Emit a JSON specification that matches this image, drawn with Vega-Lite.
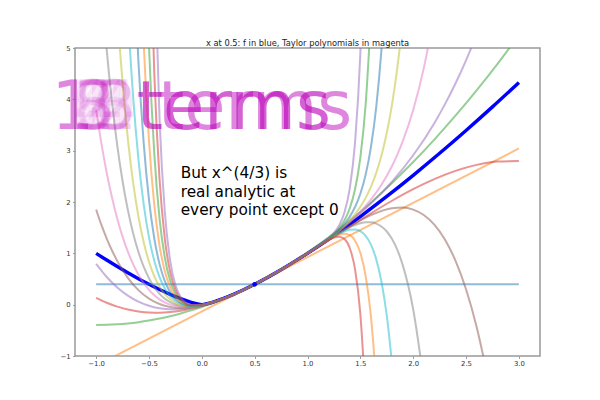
{
  "$schema": "https://vega.github.io/schema/vega-lite/v6.json",
  "autosize": "none",
  "width": 465,
  "height": 308,
  "padding": {"left": 75, "top": 48, "right": 60, "bottom": 44},
  "background": "white",
  "title": {"text": "x at 0.5: f in blue, Taylor polynomials in magenta", "fontSize": 8.3, "font": "DejaVu Sans", "fontWeight": "normal", "color": "#222", "anchor": "middle", "offset": 3.3, "baseline": "alphabetic", "dy": 13.5},
  "config": {
    "view": {"stroke": "#999", "strokeWidth": 1.5},
    "axis": {"grid": false, "domain": false, "title": null, "labelFont": "DejaVu Sans", "labelFontSize": 6.9, "labelColor": "#333", "tickColor": "#999", "tickSize": 2.4, "tickWidth": 1, "labelPadding": 2.4}
  },
  "datasets": {
    "poly": [
      {"d":0,"x":-1,"y":0.39685},{"d":0,"x":3,"y":0.39685},
      {"d":1,"x":-1,"y":-1.19054},{"d":1,"x":3,"y":3.0425},
      {"d":2,"x":-1,"y":-0.3968},{"d":2,"x":-0.9,"y":-0.3933},{"d":2,"x":-0.8,"y":-0.3827},{"d":2,"x":-0.7,"y":-0.3651},{"d":2,"x":-0.6,"y":-0.3404},{"d":2,"x":-0.5,"y":-0.3087},{"d":2,"x":-0.4,"y":-0.2699},{"d":2,"x":-0.3,"y":-0.224},{"d":2,"x":-0.2,"y":-0.1711},{"d":2,"x":-0.1,"y":-0.1111},{"d":2,"x":0,"y":-0.0441},{"d":2,"x":0.1,"y":0.03},{"d":2,"x":0.25,"y":0.1543},{"d":2,"x":0.5,"y":0.3969},{"d":2,"x":0.75,"y":0.6835},{"d":2,"x":1,"y":1.0142},{"d":2,"x":1.2,"y":1.3105},{"d":2,"x":1.4,"y":1.635},{"d":2,"x":1.6,"y":1.9878},{"d":2,"x":1.8,"y":2.3688},{"d":2,"x":2,"y":2.7779},{"d":2,"x":2.2,"y":3.2154},{"d":2,"x":2.4,"y":3.681},{"d":2,"x":2.6,"y":4.1749},{"d":2,"x":2.8,"y":4.6969},{"d":2,"x":3,"y":5.2472},
      {"d":3,"x":-1,"y":0.1323},{"d":3,"x":-0.9,"y":0.0369},{"d":3,"x":-0.8,"y":-0.0383},{"d":3,"x":-0.7,"y":-0.0942},{"d":3,"x":-0.6,"y":-0.1317},{"d":3,"x":-0.5,"y":-0.1519},{"d":3,"x":-0.4,"y":-0.1556},{"d":3,"x":-0.3,"y":-0.1437},{"d":3,"x":-0.2,"y":-0.1173},{"d":3,"x":-0.1,"y":-0.0773},{"d":3,"x":0,"y":-0.0245},{"d":3,"x":0.1,"y":0.04},{"d":3,"x":0.25,"y":0.1568},{"d":3,"x":0.5,"y":0.3969},{"d":3,"x":0.75,"y":0.681},{"d":3,"x":1,"y":0.9946},{"d":3,"x":1.2,"y":1.2567},{"d":3,"x":1.4,"y":1.5207},{"d":3,"x":1.6,"y":1.7791},{"d":3,"x":1.8,"y":2.0243},{"d":3,"x":2,"y":2.2488},{"d":3,"x":2.2,"y":2.4451},{"d":3,"x":2.4,"y":2.6056},{"d":3,"x":2.6,"y":2.7229},{"d":3,"x":2.8,"y":2.7893},{"d":3,"x":3,"y":2.7975},
      {"d":4,"x":-1,"y":0.7937},{"d":4,"x":-0.9,"y":0.5388},{"d":4,"x":-0.8,"y":0.3349},{"d":4,"x":-0.7,"y":0.1767},{"d":4,"x":-0.6,"y":0.0596},{"d":4,"x":-0.5,"y":-0.0212},{"d":4,"x":-0.4,"y":-0.0698},{"d":4,"x":-0.3,"y":-0.0902},{"d":4,"x":-0.2,"y":-0.0859},{"d":4,"x":-0.1,"y":-0.0603},{"d":4,"x":0,"y":-0.0163},{"d":4,"x":0.1,"y":0.0434},{"d":4,"x":0.25,"y":0.1573},{"d":4,"x":0.5,"y":0.3969},{"d":4,"x":0.75,"y":0.6815},{"d":4,"x":1,"y":1.0027},{"d":4,"x":1.2,"y":1.2881},{"d":4,"x":1.4,"y":1.6064},{"d":4,"x":1.6,"y":1.9704},{"d":4,"x":1.8,"y":2.3974},{"d":4,"x":2,"y":2.9102},{"d":4,"x":2.2,"y":3.5363},{"d":4,"x":2.3,"y":3.9018},{"d":4,"x":2.4,"y":4.3082},{"d":4,"x":2.5,"y":4.7605},{"d":4,"x":2.6,"y":5.2637},{"d":4,"x":2.7,"y":5.823},
      {"d":5,"x":-1,"y":1.852},{"d":5,"x":-0.95,"y":1.5528},{"d":5,"x":-0.9,"y":1.2883},{"d":5,"x":-0.85,"y":1.0557},{"d":5,"x":-0.8,"y":0.8523},{"d":5,"x":-0.75,"y":0.6757},{"d":5,"x":-0.7,"y":0.5235},{"d":5,"x":-0.6,"y":0.284},{"d":5,"x":-0.5,"y":0.1181},{"d":5,"x":-0.4,"y":0.0125},{"d":5,"x":-0.3,"y":-0.0446},{"d":5,"x":-0.2,"y":-0.0625},{"d":5,"x":-0.1,"y":-0.0495},{"d":5,"x":0,"y":-0.012},{"d":5,"x":0.1,"y":0.0448},{"d":5,"x":0.25,"y":0.1574},{"d":5,"x":0.5,"y":0.3969},{"d":5,"x":0.75,"y":0.6814},{"d":5,"x":1,"y":0.9984},{"d":5,"x":1.2,"y":1.2647},{"d":5,"x":1.4,"y":1.5241},{"d":5,"x":1.6,"y":1.7459},{"d":5,"x":1.8,"y":1.88},{"d":5,"x":1.9,"y":1.892},{"d":5,"x":2,"y":1.8519},{"d":5,"x":2.1,"y":1.7458},{"d":5,"x":2.2,"y":1.5575},{"d":5,"x":2.3,"y":1.2684},{"d":5,"x":2.4,"y":0.8575},{"d":5,"x":2.5,"y":0.3009},{"d":5,"x":2.6,"y":-0.428},{"d":5,"x":2.7,"y":-1.3588},
      {"d":6,"x":-1,"y":3.7922},{"d":6,"x":-0.95,"y":3.1359},{"d":6,"x":-0.9,"y":2.5708},{"d":6,"x":-0.85,"y":2.0868},{"d":6,"x":-0.8,"y":1.6745},{"d":6,"x":-0.75,"y":1.3254},{"d":6,"x":-0.7,"y":1.0321},{"d":6,"x":-0.65,"y":0.7876},{"d":6,"x":-0.6,"y":0.5858},{"d":6,"x":-0.55,"y":0.421},{"d":6,"x":-0.5,"y":0.2885},{"d":6,"x":-0.45,"y":0.1837},{"d":6,"x":-0.4,"y":0.103},{"d":6,"x":-0.35,"y":0.0428},{"d":6,"x":-0.3,"y":0.0001},{"d":6,"x":-0.25,"y":-0.0276},{"d":6,"x":-0.2,"y":-0.0425},{"d":6,"x":-0.1,"y":-0.0415},{"d":6,"x":0,"y":-0.0093},{"d":6,"x":0.1,"y":0.0455},{"d":6,"x":0.25,"y":0.1575},{"d":6,"x":0.5,"y":0.3969},{"d":6,"x":0.75,"y":0.6814},{"d":6,"x":1,"y":1.001},{"d":6,"x":1.2,"y":1.2847},{"d":6,"x":1.3,"y":1.4414},{"d":6,"x":1.4,"y":1.6147},{"d":6,"x":1.5,"y":1.8127},{"d":6,"x":1.6,"y":2.0477},{"d":6,"x":1.7,"y":2.3365},{"d":6,"x":1.8,"y":2.7021},{"d":6,"x":1.85,"y":2.9228},{"d":6,"x":1.9,"y":3.1745},{"d":6,"x":2,"y":3.7921},{"d":6,"x":2.1,"y":4.6035},{"d":6,"x":2.2,"y":5.67},
      {"d":7,"x":-0.95,"y":6.2},{"d":7,"x":-0.9,"y":4.9649},{"d":7,"x":-0.85,"y":3.9428},{"d":7,"x":-0.8,"y":3.0995},{"d":7,"x":-0.75,"y":2.4084},{"d":7,"x":-0.7,"y":1.8459},{"d":7,"x":-0.65,"y":1.3917},{"d":7,"x":-0.6,"y":1.0283},{"d":7,"x":-0.55,"y":0.7406},{"d":7,"x":-0.5,"y":0.5156},{"d":7,"x":-0.45,"y":0.3423},{"d":7,"x":-0.4,"y":0.2116},{"d":7,"x":-0.35,"y":0.1156},{"d":7,"x":-0.3,"y":0.0477},{"d":7,"x":-0.25,"y":0.0028},{"d":7,"x":-0.2,"y":-0.0238},{"d":7,"x":-0.15,"y":-0.0355},{"d":7,"x":-0.1,"y":-0.0352},{"d":7,"x":0,"y":-0.0075},{"d":7,"x":0.1,"y":0.0459},{"d":7,"x":0.25,"y":0.1575},{"d":7,"x":0.5,"y":0.3969},{"d":7,"x":0.75,"y":0.6814},{"d":7,"x":1,"y":0.9993},{"d":7,"x":1.2,"y":1.266},{"d":7,"x":1.4,"y":1.506},{"d":7,"x":1.5,"y":1.5856},{"d":7,"x":1.55,"y":1.6051},{"d":7,"x":1.6,"y":1.6051},{"d":7,"x":1.65,"y":1.58},{"d":7,"x":1.7,"y":1.5228},{"d":7,"x":1.75,"y":1.4251},{"d":7,"x":1.8,"y":1.2771},{"d":7,"x":1.85,"y":1.0668},{"d":7,"x":1.9,"y":0.7804},{"d":7,"x":2,"y":-0.0883},{"d":7,"x":2.1,"y":-1.49},
      {"d":8,"x":-0.85,"y":7.49},{"d":8,"x":-0.8,"y":5.7241},{"d":8,"x":-0.75,"y":4.3261},{"d":8,"x":-0.7,"y":3.2293},{"d":8,"x":-0.65,"y":2.3759},{"d":8,"x":-0.6,"y":1.718},{"d":8,"x":-0.55,"y":1.216},{"d":8,"x":-0.5,"y":0.8373},{"d":8,"x":-0.45,"y":0.5558},{"d":8,"x":-0.4,"y":0.3501},{"d":8,"x":-0.35,"y":0.2033},{"d":8,"x":-0.3,"y":0.1017},{"d":8,"x":-0.25,"y":0.035},{"d":8,"x":-0.2,"y":-0.0052},{"d":8,"x":-0.15,"y":-0.0252},{"d":8,"x":-0.1,"y":-0.0298},{"d":8,"x":0,"y":-0.0063},{"d":8,"x":0.1,"y":0.0461},{"d":8,"x":0.25,"y":0.1575},{"d":8,"x":0.5,"y":0.3969},{"d":8,"x":0.75,"y":0.6814},{"d":8,"x":1,"y":1.0005},{"d":8,"x":1.2,"y":1.2845},{"d":8,"x":1.4,"y":1.6445},{"d":8,"x":1.45,"y":1.7648},{"d":8,"x":1.5,"y":1.9073},{"d":8,"x":1.55,"y":2.0804},{"d":8,"x":1.6,"y":2.2948},{"d":8,"x":1.65,"y":2.5642},{"d":8,"x":1.7,"y":2.9062},{"d":8,"x":1.75,"y":3.3428},{"d":8,"x":1.8,"y":3.9016},{"d":8,"x":1.85,"y":4.6164},{"d":8,"x":1.9,"y":5.5286},{"d":8,"x":2,"y":8.16},
      {"d":9,"x":-0.75,"y":7.88},{"d":9,"x":-0.7,"y":5.6887},{"d":9,"x":-0.65,"y":4.0527},{"d":9,"x":-0.6,"y":2.8419},{"d":9,"x":-0.55,"y":1.9554},{"d":9,"x":-0.5,"y":1.314},{"d":9,"x":-0.45,"y":0.8562},{"d":9,"x":-0.4,"y":0.5348},{"d":9,"x":-0.35,"y":0.3137},{"d":9,"x":-0.3,"y":0.1657},{"d":9,"x":-0.25,"y":0.0708},{"d":9,"x":-0.2,"y":0.014},{"d":9,"x":-0.15,"y":-0.0153},{"d":9,"x":-0.1,"y":-0.025},{"d":9,"x":0,"y":-0.0054},{"d":9,"x":0.1,"y":0.0462},{"d":9,"x":0.25,"y":0.1575},{"d":9,"x":0.5,"y":0.3969},{"d":9,"x":0.75,"y":0.6814},{"d":9,"x":1,"y":0.9996},{"d":9,"x":1.2,"y":1.2653},{"d":9,"x":1.25,"y":1.3275},{"d":9,"x":1.3,"y":1.3838},{"d":9,"x":1.35,"y":1.43},{"d":9,"x":1.4,"y":1.4599},{"d":9,"x":1.45,"y":1.4644},{"d":9,"x":1.5,"y":1.4307},{"d":9,"x":1.55,"y":1.341},{"d":9,"x":1.6,"y":1.1709},{"d":9,"x":1.65,"y":0.8874},{"d":9,"x":1.7,"y":0.4469},{"d":9,"x":1.75,"y":-0.2084},{"d":9,"x":1.8,"y":-1.1529},
      {"d":10,"x":-0.65,"y":7.0},{"d":10,"x":-0.6,"y":4.7376},{"d":10,"x":-0.55,"y":3.1459},{"d":10,"x":-0.5,"y":2.0448},{"d":10,"x":-0.45,"y":1.2938},{"d":10,"x":-0.4,"y":0.7896},{"d":10,"x":-0.35,"y":0.4575},{"d":10,"x":-0.3,"y":0.2442},{"d":10,"x":-0.25,"y":0.1119},{"d":10,"x":-0.2,"y":0.0347},{"d":10,"x":-0.15,"y":-0.0055},{"d":10,"x":-0.1,"y":-0.0206},{"d":10,"x":0,"y":-0.0046},{"d":10,"x":0.1,"y":0.0463},{"d":10,"x":0.25,"y":0.1575},{"d":10,"x":0.5,"y":0.3969},{"d":10,"x":0.75,"y":0.6814},{"d":10,"x":1,"y":1.0003},{"d":10,"x":1.2,"y":1.286},{"d":10,"x":1.25,"y":1.3687},{"d":10,"x":1.3,"y":1.4623},{"d":10,"x":1.35,"y":1.5739},{"d":10,"x":1.4,"y":1.7147},{"d":10,"x":1.45,"y":1.902},{"d":10,"x":1.5,"y":2.1616},{"d":10,"x":1.55,"y":2.5315},{"d":10,"x":1.6,"y":3.0666},{"d":10,"x":1.65,"y":3.8442},{"d":10,"x":1.7,"y":4.9722},{"d":10,"x":1.75,"y":6.6},
      {"d":11,"x":-0.6,"y":8.02},{"d":11,"x":-0.55,"y":5.1157},{"d":11,"x":-0.5,"y":3.1965},{"d":11,"x":-0.45,"y":1.9489},{"d":11,"x":-0.4,"y":1.151},{"d":11,"x":-0.35,"y":0.6503},{"d":11,"x":-0.3,"y":0.3431},{"d":11,"x":-0.25,"y":0.1606},{"d":11,"x":-0.2,"y":0.0574},{"d":11,"x":-0.15,"y":0.0046},{"d":11,"x":-0.1,"y":-0.0164},{"d":11,"x":0,"y":-0.0041},{"d":11,"x":0.1,"y":0.0463},{"d":11,"x":0.25,"y":0.1575},{"d":11,"x":0.5,"y":0.3969},{"d":11,"x":0.75,"y":0.6814},{"d":11,"x":1,"y":0.9997},{"d":11,"x":1.1,"y":1.1335},{"d":11,"x":1.2,"y":1.2632},{"d":11,"x":1.25,"y":1.32},{"d":11,"x":1.3,"y":1.3634},{"d":11,"x":1.35,"y":1.3812},{"d":11,"x":1.4,"y":1.3533},{"d":11,"x":1.45,"y":1.2469},{"d":11,"x":1.5,"y":1.0099},{"d":11,"x":1.55,"y":0.5617},{"d":11,"x":1.6,"y":-0.2193},{"d":11,"x":1.65,"y":-1.5139},
      {"d":12,"x":-0.55,"y":8.45},{"d":12,"x":-0.5,"y":5.052},{"d":12,"x":-0.45,"y":2.9515},{"d":12,"x":-0.4,"y":1.6751},{"d":12,"x":-0.35,"y":0.9142},{"d":12,"x":-0.3,"y":0.4706},{"d":12,"x":-0.25,"y":0.2193},{"d":12,"x":-0.2,"y":0.0831},{"d":12,"x":-0.15,"y":0.0151},{"d":12,"x":-0.1,"y":-0.0123},{"d":12,"x":0,"y":-0.0036},{"d":12,"x":0.1,"y":0.0464},{"d":12,"x":0.25,"y":0.1575},{"d":12,"x":0.5,"y":0.3969},{"d":12,"x":0.75,"y":0.6814},{"d":12,"x":1,"y":1.0002},{"d":12,"x":1.1,"y":1.1375},{"d":12,"x":1.2,"y":1.2889},{"d":12,"x":1.25,"y":1.3788},{"d":12,"x":1.3,"y":1.4909},{"d":12,"x":1.35,"y":1.6451},{"d":12,"x":1.4,"y":1.8774},{"d":12,"x":1.45,"y":2.2496},{"d":12,"x":1.5,"y":2.8654},{"d":12,"x":1.55,"y":3.894},{"d":12,"x":1.6,"y":5.6},
      {"d":13,"x":-0.5,"y":8.1},{"d":13,"x":-0.45,"y":4.5146},{"d":13,"x":-0.4,"y":2.4491},{"d":13,"x":-0.35,"y":1.2823},{"d":13,"x":-0.3,"y":0.638},{"d":13,"x":-0.25,"y":0.2917},{"d":13,"x":-0.2,"y":0.1126},{"d":13,"x":-0.15,"y":0.0264},{"d":13,"x":-0.1,"y":-0.0084},{"d":13,"x":0,"y":-0.0033},{"d":13,"x":0.1,"y":0.0464},{"d":13,"x":0.25,"y":0.1575},{"d":13,"x":0.5,"y":0.3969},{"d":13,"x":0.75,"y":0.6814},{"d":13,"x":1,"y":0.9998},{"d":13,"x":1.1,"y":1.1335},{"d":13,"x":1.2,"y":1.2594},{"d":13,"x":1.25,"y":1.3065},{"d":13,"x":1.3,"y":1.3235},{"d":13,"x":1.35,"y":1.277},{"d":13,"x":1.4,"y":1.1034},{"d":13,"x":1.45,"y":0.6864},{"d":13,"x":1.5,"y":-0.1795},{"d":13,"x":1.55,"y":-1.8478},
      {"d":14,"x":-0.45,"y":6.99},{"d":14,"x":-0.4,"y":3.61},{"d":14,"x":-0.35,"y":1.8039},{"d":14,"x":-0.3,"y":0.8612},{"d":14,"x":-0.25,"y":0.3821},{"d":14,"x":-0.2,"y":0.147},{"d":14,"x":-0.15,"y":0.0386},{"d":14,"x":-0.1,"y":-0.0044},{"d":14,"x":0,"y":-0.0029},{"d":14,"x":0.1,"y":0.0464},{"d":14,"x":0.25,"y":0.1575},{"d":14,"x":0.5,"y":0.3969},{"d":14,"x":0.75,"y":0.6814},{"d":14,"x":1,"y":1.0001},{"d":14,"x":1.1,"y":1.1375},{"d":14,"x":1.2,"y":1.2938},{"d":14,"x":1.25,"y":1.3969},{"d":14,"x":1.3,"y":1.5467},{"d":14,"x":1.35,"y":1.7985},{"d":14,"x":1.4,"y":2.2643},{"d":14,"x":1.45,"y":3.1614},{"d":14,"x":1.5,"y":4.8954},{"d":14,"x":1.55,"y":8.2}
    ],
    "f": [
      {"x":-1,"y":1},{"x":-0.9,"y":0.8689},{"x":-0.8,"y":0.7427},{"x":-0.7,"y":0.6215},{"x":-0.6,"y":0.5061},{"x":-0.5,"y":0.3969},{"x":-0.4,"y":0.2947},{"x":-0.3,"y":0.2008},{"x":-0.2,"y":0.117},{"x":-0.1,"y":0.0464},{"x":-0.05,"y":0.0184},{"x":0,"y":0},{"x":0.05,"y":0.0184},{"x":0.1,"y":0.0464},{"x":0.2,"y":0.117},{"x":0.3,"y":0.2008},{"x":0.4,"y":0.2947},{"x":0.5,"y":0.3969},{"x":0.75,"y":0.6814},{"x":1,"y":1},{"x":1.25,"y":1.3465},{"x":1.5,"y":1.7171},{"x":1.75,"y":2.1089},{"x":2,"y":2.5198},{"x":2.25,"y":2.9484},{"x":2.5,"y":3.3932},{"x":2.75,"y":3.8529},{"x":3,"y":4.3267}
    ],
    "pt": [{"x":0.5,"y":0.39685}],
    "note": [{"t":"But x^(4/3) is\nreal analytic at\nevery point except 0"}],
    "terms": [
      {"t":"1 terms"},{"t":"2 terms"},{"t":"3 terms"},{"t":"4 terms"},{"t":"5 terms"},{"t":"6 terms"},{"t":"7 terms"},{"t":"8 terms"},{"t":"9 terms"},{"t":"10 terms"},{"t":"11 terms"},{"t":"12 terms"},{"t":"13 terms"},{"t":"14 terms"},{"t":"15 terms"}
    ]
  },
  "encoding": {
    "x": {"type": "quantitative", "scale": {"domain": [-1.2, 3.2], "nice": false, "zero": false}, "axis": {"values": [-1, -0.5, 0, 0.5, 1, 1.5, 2, 2.5, 3], "format": ".1f"}},
    "y": {"type": "quantitative", "scale": {"domain": [-1, 5], "nice": false, "zero": false}, "axis": {"values": [-1, 0, 1, 2, 3, 4, 5], "format": "d"}}
  },
  "layer": [
    {
      "data": {"name": "f"},
      "mark": {"type": "line", "color": "#0000ff", "strokeWidth": 3.4, "interpolate": "monotone", "clip": true},
      "encoding": {"x": {"field": "x", "type": "quantitative"}, "y": {"field": "y", "type": "quantitative"}}
    },
    {
      "data": {"name": "poly"},
      "mark": {"type": "line", "strokeWidth": 2, "opacity": 0.5, "interpolate": "monotone", "clip": true},
      "encoding": {
        "x": {"field": "x", "type": "quantitative"},
        "y": {"field": "y", "type": "quantitative"},
        "color": {"field": "d", "type": "nominal", "legend": null, "scale": {"domain": [0,1,2,3,4,5,6,7,8,9,10,11,12,13,14], "range": ["#1f77b4","#ff7f0e","#2ca02c","#d62728","#9467bd","#8c564b","#e377c2","#7f7f7f","#bcbd22","#17becf","#1f77b4","#ff7f0e","#2ca02c","#d62728","#9467bd"]}}
      }
    },
    {
      "data": {"name": "pt"},
      "mark": {"type": "circle", "color": "#0000ff", "size": 22, "opacity": 1},
      "encoding": {"x": {"field": "x", "type": "quantitative"}, "y": {"field": "y", "type": "quantitative"}}
    },
    {
      "data": {"name": "note"},
      "mark": {"type": "text", "align": "left", "baseline": "alphabetic", "font": "DejaVu Sans", "fontSize": 15.3, "lineHeight": 18.3, "color": "#000", "lineBreak": "\n"},
      "encoding": {"x": {"datum": -0.2}, "y": {"datum": 2.458}, "text": {"field": "t"}}
    },
    {
      "data": {"name": "terms"},
      "mark": {"type": "text", "align": "center", "baseline": "alphabetic", "font": "DejaVu Sans", "fontSize": 67, "color": "#bf00bf", "opacity": 0.095},
      "encoding": {"x": {"datum": 0}, "y": {"datum": 3.43}, "text": {"field": "t"}}
    }
  ]
}
